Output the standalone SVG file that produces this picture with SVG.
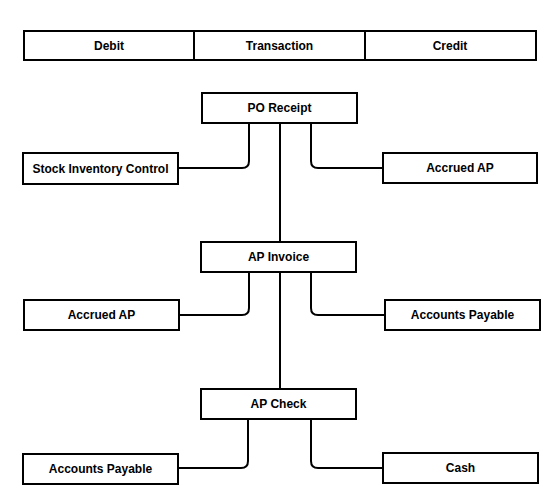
<svg xmlns="http://www.w3.org/2000/svg" width="560" height="504" viewBox="0 0 560 504">
<style>
rect{fill:#fff;stroke:#000;stroke-width:2}
text{font-family:"Liberation Sans",Arial,sans-serif;font-size:12px;font-weight:bold;text-anchor:middle;dominant-baseline:central;fill:#000}
.c{fill:none;stroke:#000;stroke-width:2}
</style>
<rect x="0" y="0" width="560" height="504" style="stroke:none"/>
<g id="header">
<rect x="24" y="31" width="512" height="29"/>
<line x1="194" y1="31" x2="194" y2="60" class="c"/>
<line x1="365" y1="31" x2="365" y2="60" class="c"/>
<text x="109" y="46">Debit</text>
<text x="279.5" y="46">Transaction</text>
<text x="450" y="46">Credit</text>
</g>
<g id="connectors">
<path class="c" d="M249 123 V161 Q249 168 242 168 H178"/>
<path class="c" d="M311 123 V161 Q311 168 318 168 H383"/>
<path class="c" d="M280 123 V242"/>
<path class="c" d="M249 272 V308 Q249 315 242 315 H179"/>
<path class="c" d="M311 272 V308 Q311 315 318 315 H385"/>
<path class="c" d="M280 272 V389"/>
<path class="c" d="M248 419 V461 Q248 468 241 468 H178"/>
<path class="c" d="M311 419 V461 Q311 468 318 468 H383"/>
</g>
<g id="po-receipt"><rect x="202" y="93" width="155" height="30"/><text x="279.5" y="108">PO Receipt</text></g>
<g id="stock-inventory"><rect x="23" y="153" width="155" height="31"/><text x="100.5" y="168.5">Stock Inventory Control</text></g>
<g id="accrued-ap-1"><rect x="383" y="153" width="154" height="30"/><text x="460" y="168">Accrued AP</text></g>
<g id="ap-invoice"><rect x="201" y="242" width="155" height="30"/><text x="278.5" y="257">AP Invoice</text></g>
<g id="accrued-ap-2"><rect x="24" y="300" width="155" height="30"/><text x="101.5" y="315">Accrued AP</text></g>
<g id="accounts-payable-1"><rect x="385" y="300" width="155" height="30"/><text x="462.5" y="315">Accounts Payable</text></g>
<g id="ap-check"><rect x="201" y="389" width="155" height="30"/><text x="278.5" y="404">AP Check</text></g>
<g id="accounts-payable-2"><rect x="23" y="454" width="155" height="30"/><text x="100.5" y="469">Accounts Payable</text></g>
<g id="cash"><rect x="383" y="453" width="155" height="30"/><text x="460.5" y="468">Cash</text></g>
</svg>
